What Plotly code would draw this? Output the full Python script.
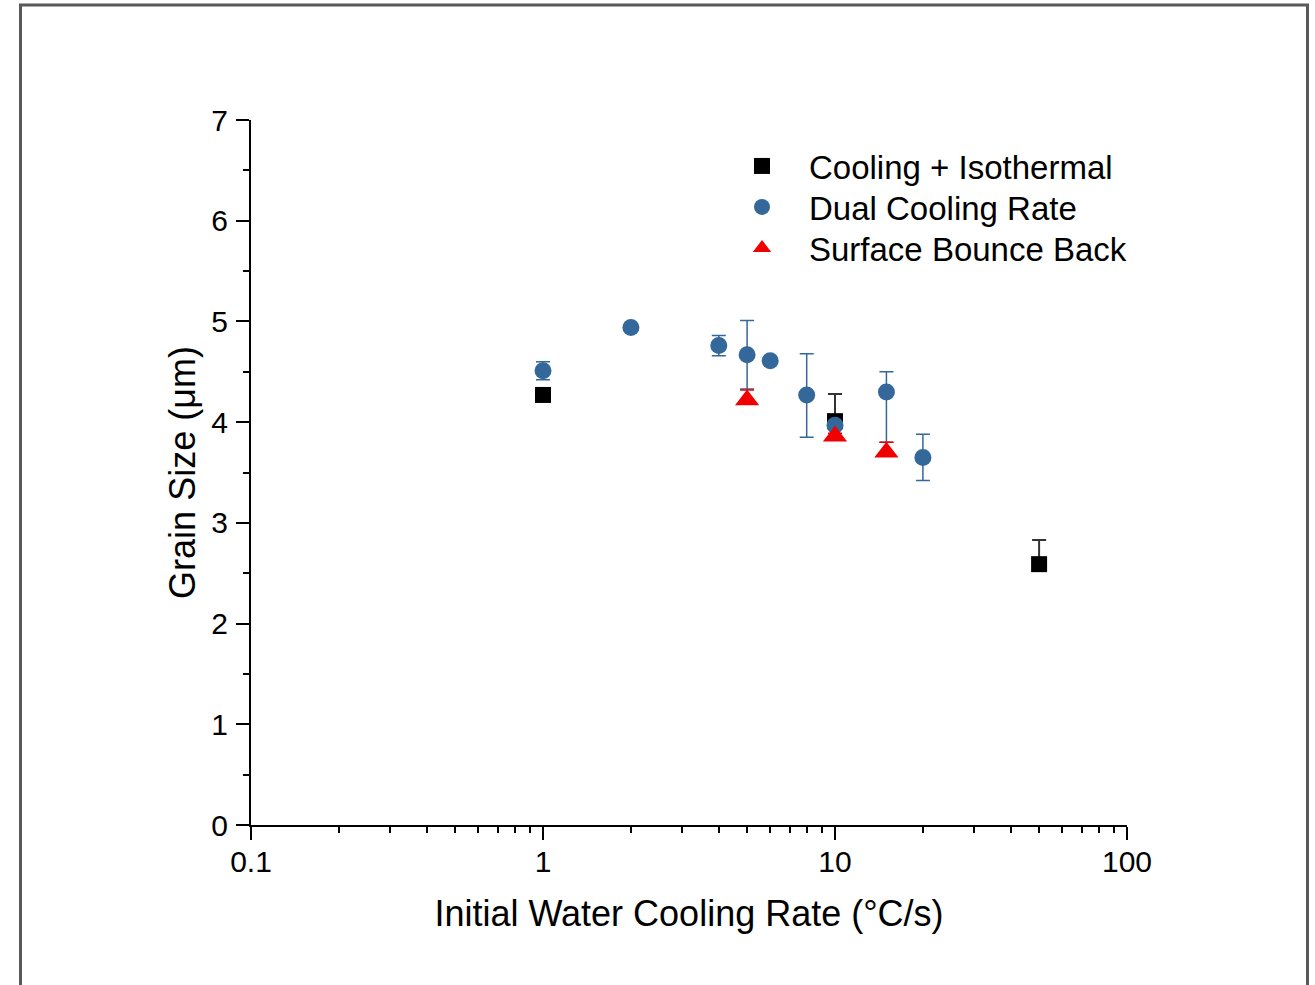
import plotly.graph_objects as go

# ---- data ----
ci_x = [1, 10, 50]
ci_y = [4.27, 4.01, 2.59]
ci_err_plus = [0.0, 0.27, 0.24]
ci_err_minus = [0.0, 0.0, 0.0]

dc_x = [1, 2, 4, 5, 6, 8, 10, 15, 20]
dc_y = [4.51, 4.94, 4.76, 4.67, 4.61, 4.27, 3.97, 4.30, 3.65]
dc_err_plus = [0.09, 0.0, 0.10, 0.34, 0.0, 0.41, 0.0, 0.20, 0.23]
dc_err_minus = [0.09, 0.0, 0.10, 0.34, 0.0, 0.42, 0.0, 0.50, 0.23]

sb_x = [5, 10, 15]
sb_y = [4.22, 3.86, 3.70]
sb_err_plus = [0.10, 0.03, 0.10]
sb_err_minus = [0.0, 0.0, 0.0]

x_tickvals = [0.1, 1, 10, 100]
x_ticktext = ["0.1", "1", "10", "100"]
y_tickvals = [0, 1, 2, 3, 4, 5, 6, 7]

BLUE = "#34679A"
RED = "#F00000"
FONT = "Liberation Sans, Arial, sans-serif"

fig = go.Figure()
fig.add_trace(go.Scatter(
    x=ci_x, y=ci_y, mode="markers", name="Cooling + Isothermal", legend="legend",
    marker=dict(symbol="square", size=16, color="black"),
    error_y=dict(type="data", array=ci_err_plus, arrayminus=ci_err_minus,
                 symmetric=False, color="#333333", thickness=2, width=7),
))
fig.add_trace(go.Scatter(
    x=dc_x, y=dc_y, mode="markers", name="Dual Cooling Rate", legend="legend2",
    marker=dict(symbol="circle", size=17, color=BLUE),
    error_y=dict(type="data", array=dc_err_plus, arrayminus=dc_err_minus,
                 symmetric=False, color=BLUE, thickness=1.5, width=7),
))
fig.add_trace(go.Scatter(
    x=sb_x, y=sb_y, mode="markers", name="Surface Bounce Back", legend="legend3",
    marker=dict(symbol="triangle-up", size=21, color=RED),
    error_y=dict(type="data", array=sb_err_plus, arrayminus=sb_err_minus,
                 symmetric=False, color=RED, thickness=1.5, width=7),
))

axis_common = dict(
    showline=True, linecolor="black", linewidth=2,
    ticks="outside", ticklen=13, tickwidth=2, tickcolor="black",
    showgrid=False, zeroline=False, mirror=False,
    tickfont=dict(family=FONT, size=30, color="black"),
)

fig.update_xaxes(
    type="log", range=[-1, 2], tickvals=x_tickvals, ticktext=x_ticktext,
    ticklabelstandoff=-4,
    minor=dict(ticks="outside", ticklen=6, tickwidth=2, tickcolor="black", dtick="D1", showgrid=False),
    title=dict(text="Initial Water Cooling Rate (°C/s)", font=dict(family=FONT, size=36, color="black"), standoff=24),
    **axis_common,
)
fig.update_yaxes(
    range=[0, 7], tickvals=y_tickvals, ticklabelstandoff=2,
    minor=dict(ticks="outside", ticklen=6, tickwidth=2, tickcolor="black", dtick=0.5, showgrid=False),
    title=dict(text="Grain Size (μm)", font=dict(family=FONT, size=36, color="black"), standoff=5),
    **axis_common,
)

def leg(yc):
    return dict(
        x=(715 - 251) / 876, y=(825 - yc) / 705, xanchor="left", yanchor="middle",
        font=dict(family=FONT, size=33, color="black"), itemwidth=84,
        bgcolor="rgba(0,0,0,0)", borderwidth=0,
    )

fig.update_layout(
    width=1315, height=985,
    margin=dict(l=251, r=188, t=120, b=160, autoexpand=False),
    paper_bgcolor="white", plot_bgcolor="white",
    showlegend=True,
    legend=leg(166), legend2=leg(207), legend3=leg(248),
    shapes=[dict(
        type="rect", xref="paper", yref="paper",
        x0=(20.5 - 251) / 876, x1=(1307.5 - 251) / 876,
        y0=(825 - 1000) / 705, y1=(825 - 5) / 705,
        line=dict(color="#595959", width=3), fillcolor="rgba(0,0,0,0)", layer="below",
    )],
)

fig.write_html("out.html")
